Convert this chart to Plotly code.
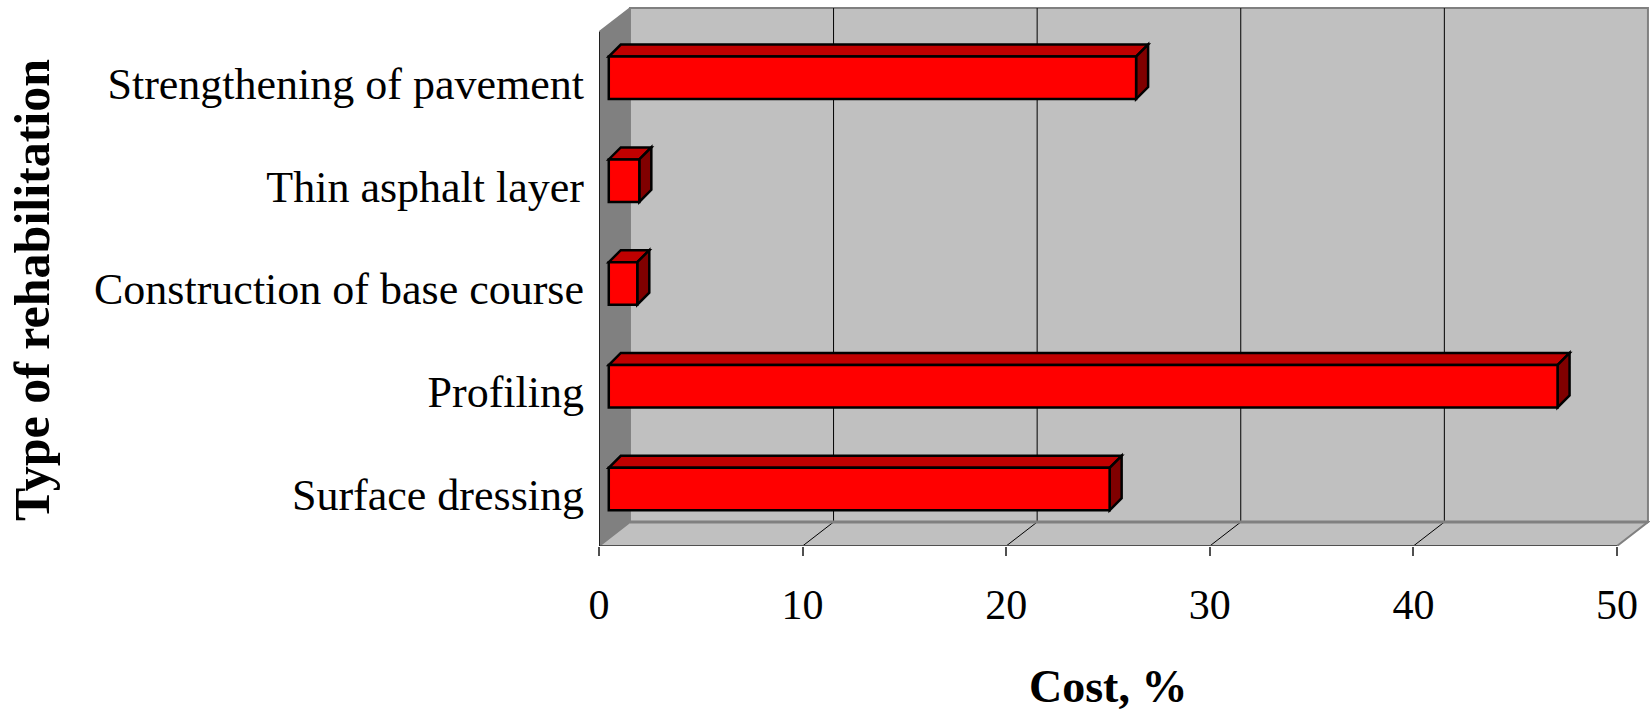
import plotly.graph_objects as go

# Cost share of each rehabilitation type (bottom to top on the chart)
categories = [
    "Surface dressing",
    "Profiling",
    "Construction of base course",
    "Thin asphalt layer",
    "Strengthening of pavement",
]
cost_pct = [24.6, 46.6, 1.4, 1.5, 25.9]
x_ticks = [0, 10, 20, 30, 40, 50]

# Oblique "3-D" projection settings, all in axis units
X_MAX = 50
DEPTH_X = 1.52        # back wall offset along x
DEPTH_Y = 0.233       # back wall offset along the category axis
BAR_X0 = 0.48         # bars start a little behind the front plane
BAR_SHIFT = 0.054     # matching vertical shift of the bar front face
BAR_W = 0.413         # bar thickness
BAR_DX = 0.59         # bar depth (x part)
BAR_DY = 0.117        # bar depth (y part)

WALL = "#C0C0C0"
SIDE = "#808080"
EDGE = "#808080"
RED_FRONT = "#FF0000"
RED_TOP = "#C00000"
RED_SIDE = "#800000"

n = len(categories)
y_lo, y_hi = -0.5, n - 0.5
bar_pos = [i + BAR_SHIFT for i in range(n)]


def poly(pts):
    return "M " + " L ".join(f"{x},{y}" for x, y in pts) + " Z"


shapes = []

# back wall
shapes.append(dict(type="rect", xref="x", yref="y", layer="below",
                   x0=DEPTH_X, x1=X_MAX + DEPTH_X,
                   y0=y_lo + DEPTH_Y, y1=y_hi + DEPTH_Y,
                   fillcolor=WALL, line=dict(color=EDGE, width=2)))
# side wall
shapes.append(dict(type="path", xref="x", yref="y", layer="below",
                   path=poly([(0, y_lo), (DEPTH_X, y_lo + DEPTH_Y),
                              (DEPTH_X, y_hi + DEPTH_Y), (0, y_hi)]),
                   fillcolor=SIDE, line=dict(width=0)))
shapes.append(dict(type="line", xref="x", yref="y", layer="below",
                   x0=0, y0=y_hi, x1=DEPTH_X, y1=y_hi + DEPTH_Y,
                   line=dict(color=EDGE, width=1.5)))
# floor
shapes.append(dict(type="path", xref="x", yref="y", layer="below",
                   path=poly([(0, y_lo), (X_MAX, y_lo),
                              (X_MAX + DEPTH_X, y_lo + DEPTH_Y),
                              (DEPTH_X, y_lo + DEPTH_Y)]),
                   fillcolor=WALL, line=dict(color=EDGE, width=2)))

# gridlines on the back wall and their diagonals across the floor
for t in x_ticks[1:-1]:
    shapes.append(dict(type="line", xref="x", yref="y", layer="below",
                       x0=t + DEPTH_X, y0=y_lo + DEPTH_Y,
                       x1=t + DEPTH_X, y1=y_hi + DEPTH_Y,
                       line=dict(color="black", width=1)))
    shapes.append(dict(type="line", xref="x", yref="y", layer="below",
                       x0=t, y0=y_lo, x1=t + DEPTH_X, y1=y_lo + DEPTH_Y,
                       line=dict(color="black", width=1)))

# floor back edge and front edge
shapes.append(dict(type="line", xref="x", yref="y", layer="below",
                   x0=DEPTH_X, y0=y_lo + DEPTH_Y,
                   x1=X_MAX + DEPTH_X, y1=y_lo + DEPTH_Y,
                   line=dict(color=EDGE, width=3)))
shapes.append(dict(type="line", xref="x", yref="y", layer="below",
                   x0=0, y0=y_lo, x1=X_MAX, y1=y_lo,
                   line=dict(color="#505050", width=2)))

# top and end faces of every bar
for pos, v in zip(bar_pos, cost_pct):
    xl, xr = BAR_X0, BAR_X0 + v
    yb, yt = pos - BAR_W / 2, pos + BAR_W / 2
    shapes.append(dict(type="path", xref="x", yref="y", layer="below",
                       path=poly([(xl, yt), (xr, yt),
                                  (xr + BAR_DX, yt + BAR_DY),
                                  (xl + BAR_DX, yt + BAR_DY)]),
                       fillcolor=RED_TOP, line=dict(color="black", width=2.5)))
    shapes.append(dict(type="path", xref="x", yref="y", layer="below",
                       path=poly([(xr, yb), (xr, yt),
                                  (xr + BAR_DX, yt + BAR_DY),
                                  (xr + BAR_DX, yb + BAR_DY)]),
                       fillcolor=RED_SIDE, line=dict(color="black", width=2.5)))

# front value axis line on the left
shapes.append(dict(type="line", xref="x", yref="y", layer="above",
                   x0=0, y0=y_lo, x1=0, y1=y_hi,
                   line=dict(color="black", width=1.5)))

fig = go.Figure()
fig.add_trace(go.Bar(
    x=cost_pct, y=bar_pos, base=BAR_X0, orientation="h", width=BAR_W,
    marker=dict(color=RED_FRONT, line=dict(color="black", width=2.5)),
    hoverinfo="skip", showlegend=False,
))

L, R, T, B = 599, 0, 7, 165
W, H = 1650, 711
PW, PH = W - L - R, H - T - B
px_per_x = 20.36
px_per_cat = 102.8
x_range = [0, PW / px_per_x]
y_range = [y_lo, y_lo + PH / px_per_cat]


def paper_x(px):
    return (px - L) / PW


def paper_y(py):
    return (H - B - py) / PH


serif = "Liberation Serif"

fig.update_layout(
    width=W, height=H, autosize=False,
    margin=dict(l=L, r=R, t=T, b=B, pad=0),
    paper_bgcolor="white", plot_bgcolor="white",
    font=dict(family=serif, color="black"),
    shapes=shapes,
    xaxis=dict(range=x_range, tickmode="array", tickvals=x_ticks,
               ticks="outside", ticklen=9, tickwidth=1.5, tickcolor="#505050",
               showline=False, showgrid=False, zeroline=False,
               tickfont=dict(family=serif, size=42, color="black"),
               ticklabelstandoff=13, automargin=False, fixedrange=True),
    yaxis=dict(range=y_range, tickmode="array", tickvals=list(range(n)),
               ticktext=categories, ticks="",
               showline=False, showgrid=False, zeroline=False,
               tickfont=dict(family=serif, size=44, color="black"),
               ticklabelstandoff=14, automargin=False, fixedrange=True),
    yaxis2=dict(range=y_range, overlaying="y", anchor="x", side="left",
                tickmode="array",
                tickvals=[y_lo + k for k in range(n + 1)],
                ticks="outside", ticklen=9, tickwidth=1.5, tickcolor="#404040",
                showticklabels=False, showline=False, showgrid=False,
                zeroline=False, automargin=False, fixedrange=True),
    annotations=[
        dict(text="<b>Cost, %</b>", xref="x", yref="paper",
             x=X_MAX / 2, y=paper_y(686), xanchor="center", yanchor="middle",
             showarrow=False, font=dict(family=serif, size=46, color="black")),
        dict(text="<b>Type of rehabilitation</b>", xref="paper", yref="paper",
             x=paper_x(32), y=paper_y(290), xanchor="center", yanchor="middle",
             textangle=-90, showarrow=False,
             font=dict(family=serif, size=50, color="black")),
    ],
)

fig.write_html("out.html")
